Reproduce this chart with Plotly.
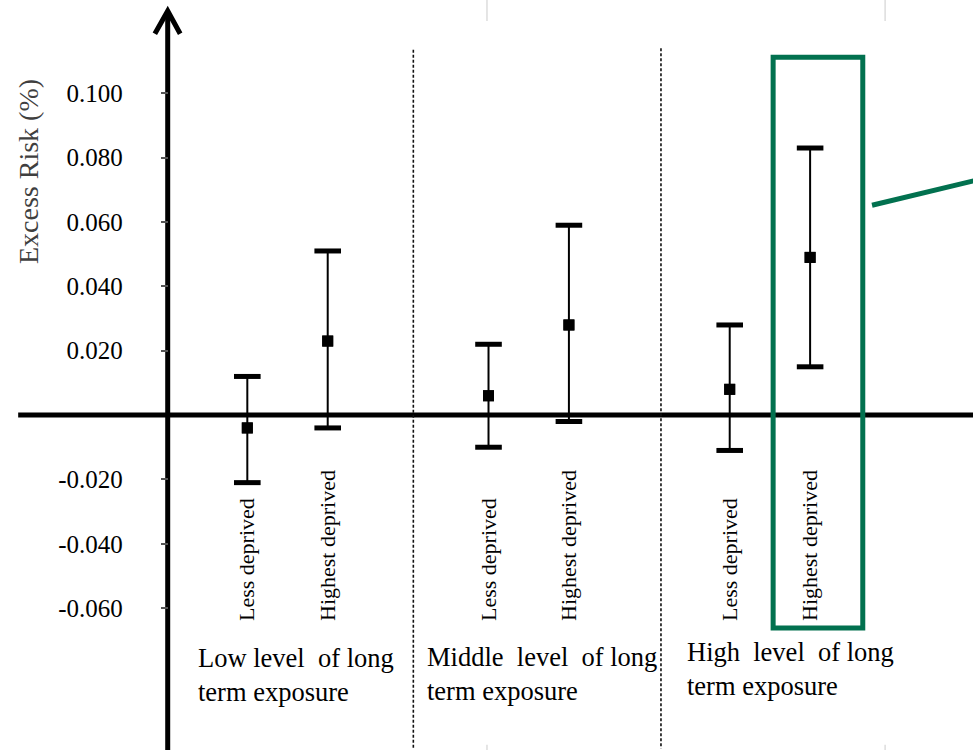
import plotly.graph_objects as go

# --- data -------------------------------------------------------------
groups = ["Low level  of long<br>term exposure",
          "Middle  level  of long<br>term exposure",
          "High  level  of long<br>term exposure"]
subgroups = ["Less deprived", "Highest deprived"] * 3
x_pos = [0, 1, 3, 4, 6, 7]

excess_risk = [-0.004, 0.023, 0.006, 0.028, 0.008, 0.049]
ci_lower = [-0.021, -0.004, -0.010, -0.002, -0.011, 0.015]
ci_upper = [0.012, 0.051, 0.022, 0.059, 0.028, 0.083]

y_ticks = [-0.06, -0.04, -0.02, 0.02, 0.04, 0.06, 0.08, 0.10]
y_tick_text = [f"{v:.3f}" for v in y_ticks]
y_title = "Excess Risk (%)"

# --- axis extents ------------------------------------------------------
X_MIN, X_MAX = -3.076, 9.026
Y_MIN, Y_MAX = -0.1041, 0.1290
Y_AXIS_X = -0.99
SERIF = "Liberation Serif, Times New Roman, serif"
GREEN = "#02714f"

err_plus = [u - v for u, v in zip(ci_upper, excess_risk)]
err_minus = [v - l for v, l in zip(excess_risk, ci_lower)]

fig = go.Figure()

# confidence interval stems
fig.add_trace(go.Scatter(
    x=x_pos, y=excess_risk, mode="markers",
    marker=dict(symbol="square", size=11, color="black"),
    error_y=dict(type="data", array=err_plus, arrayminus=err_minus,
                 color="black", thickness=2, width=0, visible=True),
    showlegend=False, hoverinfo="skip"))

# heavy caps at both ends of each interval
fig.add_trace(go.Scatter(
    x=x_pos + x_pos, y=ci_upper + ci_lower, mode="markers",
    marker=dict(symbol="line-ew", size=19,
                line=dict(color="black", width=5)),
    showlegend=False, hoverinfo="skip"))

# point estimates on top
fig.add_trace(go.Scatter(
    x=x_pos, y=excess_risk, mode="markers",
    marker=dict(symbol="square", size=11, color="black"),
    showlegend=False, hoverinfo="skip"))

shapes = []
# horizontal zero axis
shapes.append(dict(type="line", xref="x", yref="y", x0=-2.85, x1=X_MAX + 0.5,
                   y0=0, y1=0, line=dict(color="black", width=5), layer="below"))
# vertical axis with arrow head
shapes.append(dict(type="line", xref="x", yref="y", x0=Y_AXIS_X, x1=Y_AXIS_X,
                   y0=Y_MIN - 0.01, y1=0.1252, line=dict(color="black", width=5),
                   layer="below"))
shapes.append(dict(type="path", xref="x", yref="y",
                   path=f"M -1.150 0.1185 L {Y_AXIS_X} 0.1256 L -0.835 0.1185",
                   line=dict(color="black", width=5)))
# dashed separators between exposure levels
for xs, ytop in [(2.065, 0.1135), (5.145, 0.1140)]:
    shapes.append(dict(type="line", xref="x", yref="y", x0=xs, x1=xs,
                       y0=ytop, y1=Y_MIN + 0.0005,
                       line=dict(color="#111111", width=1.6, dash="3px,2px"),
                       layer="below"))
# faint gridline stubs at top and bottom edges
for xs in [2.981, 7.933]:
    shapes.append(dict(type="line", xref="x", yref="y", x0=xs, x1=xs,
                       y0=Y_MAX, y1=0.1225, line=dict(color="#dddddd", width=1.5),
                       layer="below"))
    shapes.append(dict(type="line", xref="x", yref="y", x0=xs, x1=xs,
                       y0=-0.1025, y1=Y_MIN, line=dict(color="#dddddd", width=1.5),
                       layer="below"))
# highlight box around the highest-deprived / high-exposure estimate
shapes.append(dict(type="rect", xref="x", yref="y", x0=6.54, x1=7.655,
                   y0=-0.0662, y1=0.1112, line=dict(color=GREEN, width=5)))
shapes.append(dict(type="line", xref="x", yref="y", x0=7.77, x1=9.5,
                   y0=0.0652, y1=0.0756, line=dict(color=GREEN, width=5)))

annotations = []
# y axis title
annotations.append(dict(text=y_title, xref="paper", yref="paper",
                        x=28 / 973, y=1 - 172 / 750, xanchor="center",
                        yanchor="middle", textangle=-90, showarrow=False,
                        font=dict(family=SERIF, size=28, color="#3f3f3f")))
# exposure-level captions under each pair
for gx, gy, text in [(-0.64, -0.0808, groups[0]),
                     (2.205, -0.0805, groups[1]),
                     (5.44, -0.0790, groups[2])]:
    annotations.append(dict(text=text, xref="x", yref="y", x=gx, y=gy,
                            xanchor="left", yanchor="middle", align="left",
                            showarrow=False,
                            font=dict(family=SERIF, size=26.5, color="black")))

fig.update_layout(
    width=973, height=750,
    margin=dict(l=0, r=0, t=0, b=0),
    paper_bgcolor="white", plot_bgcolor="white",
    shapes=shapes, annotations=annotations,
    xaxis=dict(range=[X_MIN, X_MAX], domain=[0, 1], anchor="free",
               position=1 - 621 / 750, side="top",
               tickmode="array", tickvals=x_pos, ticktext=subgroups,
               tickangle=-90, ticks="", showline=False, showgrid=False,
               zeroline=False, ticklabelstandoff=0,
               tickfont=dict(family=SERIF, size=22, color="black")),
    yaxis=dict(range=[Y_MIN, Y_MAX], domain=[0, 1], anchor="free",
               position=(Y_AXIS_X - X_MIN) / (X_MAX - X_MIN),
               tickmode="array", tickvals=y_ticks, ticktext=y_tick_text,
               ticks="outside", ticklen=7, tickwidth=1.5, tickcolor="#555555",
               ticklabelstandoff=33, showline=False, showgrid=False,
               zeroline=False,
               tickfont=dict(family=SERIF, size=25, color="black")),
)

fig.write_html("out.html")
